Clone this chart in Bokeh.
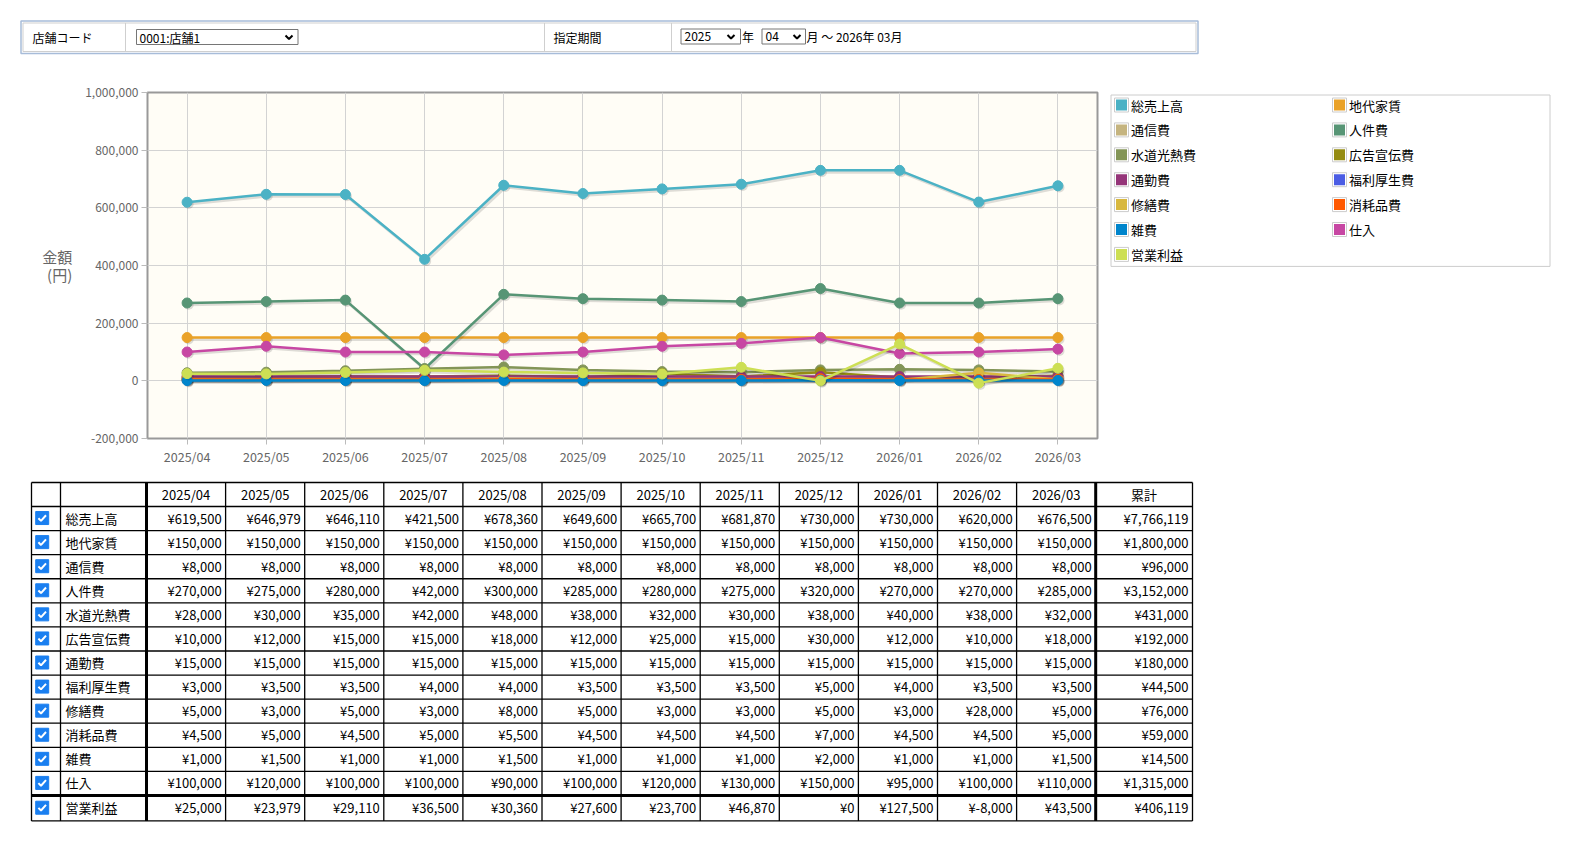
from bokeh.plotting import figure
from bokeh.models import FactorRange, Range1d, FixedTicker, NumeralTickFormatter, ColumnDataSource
from bokeh.layouts import column, row
from bokeh.embed import file_html
from bokeh.resources import INLINE
from bokeh.core.properties import value
from bokeh.transform import dodge

# ---------------- data ----------------
months = ["2025/04", "2025/05", "2025/06", "2025/07", "2025/08", "2025/09",
          "2025/10", "2025/11", "2025/12", "2026/01", "2026/02", "2026/03"]

series_names = ["総売上高", "地代家賃", "通信費", "人件費", "水道光熱費", "広告宣伝費",
                "通勤費", "福利厚生費", "修繕費", "消耗品費", "雑費", "仕入", "営業利益"]
series_colors = ["#4bb2c5", "#EAA228", "#c5b47f", "#579575", "#839557", "#958c12",
                 "#953579", "#4b5de4", "#d8b83f", "#ff5800", "#0085cc", "#c747a3", "#cddf54"]

uriage = [619500, 646979, 646110, 421500, 678360, 649600, 665700, 681870, 730000, 730000, 620000, 676500]
chidai = [150000, 150000, 150000, 150000, 150000, 150000, 150000, 150000, 150000, 150000, 150000, 150000]
tsushin = [8000, 8000, 8000, 8000, 8000, 8000, 8000, 8000, 8000, 8000, 8000, 8000]
jinken = [270000, 275000, 280000, 42000, 300000, 285000, 280000, 275000, 320000, 270000, 270000, 285000]
suido = [28000, 30000, 35000, 42000, 48000, 38000, 32000, 30000, 38000, 40000, 38000, 32000]
kokoku = [10000, 12000, 15000, 15000, 18000, 12000, 25000, 15000, 30000, 12000, 10000, 18000]
tsukin = [15000, 15000, 15000, 15000, 15000, 15000, 15000, 15000, 15000, 15000, 15000, 15000]
fukuri = [3000, 3500, 3500, 4000, 4000, 3500, 3500, 3500, 5000, 4000, 3500, 3500]
shuzen = [5000, 3000, 5000, 3000, 8000, 5000, 3000, 3000, 5000, 3000, 28000, 5000]
shomo = [4500, 5000, 4500, 5000, 5500, 4500, 4500, 4500, 7000, 4500, 4500, 5000]
zappi = [1000, 1500, 1000, 1000, 1500, 1000, 1000, 1000, 2000, 1000, 1000, 1500]
shiire = [100000, 120000, 100000, 100000, 90000, 100000, 120000, 130000, 150000, 95000, 100000, 110000]
eigyo = [25000, 23979, 29110, 36500, 30360, 27600, 23700, 46870, 0, 127500, -8000, 43500]

series_values = [uriage, chidai, tsushin, jinken, suido, kokoku, tsukin,
                 fukuri, shuzen, shomo, zappi, shiire, eigyo]

y_ticks = [-200000, 0, 200000, 400000, 600000, 800000, 1000000]
y_min, y_max = -200000, 1000000
y_label = "金額\n(円)"
total_label = "累計"

form_store_label = "店舗コード"
form_store_value = "0001:店舗1"
form_period_label = "指定期間"
form_year_value = "2025"
form_month_value = "04"
form_year_unit = "年"
form_period_end = "月 ～ 2026年 03月"

JP = "Noto Sans CJK JP"

# ---------------- form (top) ----------------
FW, FH = 1570, 60
fp = figure(width=FW, height=FH, x_range=Range1d(0, FW), y_range=Range1d(FH, 0),
            output_backend="svg", toolbar_location=None, min_border=0)
fp.axis.visible = False
fp.grid.visible = False
fp.outline_line_color = None
fp.background_fill_color = "white"
fp.border_fill_color = "white"

fp.quad(left=[20.5], right=[1197.5], top=[20.5], bottom=[53], fill_color=None,
        line_color="#a7bcd9", line_width=1.5)
fp.quad(left=[22.5], right=[1195.5], top=[22.5], bottom=[51], fill_color=None,
        line_color="#cfcfcf", line_width=1)
fp.segment(x0=[125, 544, 671], y0=[22.5] * 3, x1=[125, 544, 671], y1=[51] * 3,
           line_color="#cfcfcf", line_width=1)
# select boxes
fp.quad(left=[136, 680.5, 761.5], right=[297.5, 740, 805], top=[29, 28.5, 28.5],
        bottom=[44, 43.5, 43.5], fill_color="white", line_color="#767676", line_width=1)
fp.multi_line(xs=[[285, 288.5, 292], [727, 730.5, 734], [793, 796.5, 800]],
              ys=[[35, 38.5, 35], [34.5, 38, 34.5], [34.5, 38, 34.5]],
              line_color="black", line_width=2)
fp.text(x=[32, 139, 553, 684, 765, 741.5, 806],
        y=[36.5, 36.5, 36.5, 36, 36, 36, 36],
        text=[form_store_label, form_store_value, form_period_label, form_year_value,
              form_month_value, form_year_unit, form_period_end],
        text_font=value(JP), text_font_size=value("12px"), text_color="black",
        text_align="left", text_baseline="middle")

# ---------------- chart ----------------
CW, CH = 1105, 415
BT, BB = 32, 37
p = figure(x_range=FactorRange(factors=months), y_range=Range1d(y_min, y_max),
           width=CW, height=CH, min_border_left=147, min_border_right=8,
           min_border_top=BT, min_border_bottom=BB,
           output_backend="svg", toolbar_location=None,
           background_fill_color="#fffdf6", border_fill_color="white")
p.outline_line_color = "#999999"
p.outline_line_width = 2
p.xgrid.grid_line_color = "#d3d3d3"
p.ygrid.grid_line_color = "#d3d3d3"
p.yaxis.ticker = FixedTicker(ticks=y_ticks)
p.yaxis.formatter = NumeralTickFormatter(format="0,0")
for ax in (p.xaxis, p.yaxis):
    ax.axis_line_color = None
    ax.major_tick_line_color = "#bbbbbb"
    ax.major_tick_out = 6
    ax.major_tick_in = 0
    ax.minor_tick_line_color = None
    ax.major_label_text_color = "#666666"
    ax.major_label_text_font = JP
    ax.major_label_text_font_size = "12px"
p.yaxis.major_label_standoff = 3
p.xaxis.major_label_standoff = 2
p.xaxis.major_label_text_font_size = "12.5px"
p.yaxis.axis_label = y_label
p.yaxis.axis_label_orientation = "horizontal"
p.yaxis.axis_label_text_font = JP
p.yaxis.axis_label_text_font_size = "15px"
p.yaxis.axis_label_text_font_style = "normal"
p.yaxis.axis_label_text_color = "#666666"
p.yaxis.axis_label_text_line_height = 0.85
p.yaxis.axis_label_standoff = 10

frame_h = CH - BT - BB
px_per_unit = frame_h / (y_max - y_min)
shadow_dy = 1.8 / px_per_unit
for name, col, vals in zip(series_names, series_colors, series_values):
    src = ColumnDataSource(dict(x=months, y=vals, ys=[v - shadow_dy for v in vals]))
    sx = dodge("x", 0.02, range=p.x_range)
    p.line(x=sx, y="ys", source=src, line_color="black", line_alpha=0.13, line_width=3)
    p.scatter(x=sx, y="ys", source=src, size=10, fill_color="black", fill_alpha=0.13,
              line_color=None)
    p.line(x="x", y="y", source=src, line_color=col, line_width=2.5)
    p.scatter(x="x", y="y", source=src, size=10, fill_color=col, line_color=col)

# ---------------- legend (same vertical frame as chart; global page coordinates) ----------------
LX0, LW = CW, 1570 - CW
GY_TOP = 60 + BT
lp = figure(width=LW, height=CH, x_range=Range1d(LX0, LX0 + LW),
            y_range=Range1d(GY_TOP + frame_h, GY_TOP),
            output_backend="svg", toolbar_location=None, min_border_left=0,
            min_border_right=0, min_border_top=BT, min_border_bottom=BB)
lp.axis.visible = False
lp.grid.visible = False
lp.outline_line_color = None
lp.border_fill_color = "white"
lp.background_fill_color = "white"
n_rows = (len(series_names) + 1) // 2
row_step = 24.9
first_row = 104.5
leg_top = 94.5
lp.quad(left=[1110.5], right=[1549.5], top=[leg_top],
        bottom=[first_row + row_step * (n_rows - 1) + 12],
        fill_color="white", line_color="#cccccc", line_width=1)
sw_x = [1121 + 218 * (i % 2) for i in range(len(series_names))]
sw_y = [first_row + row_step * (i // 2) for i in range(len(series_names))]
lp.rect(x=sw_x, y=sw_y, width=14, height=14, fill_color="white", line_color="#cccccc",
        line_width=1)
lp.rect(x=sw_x, y=sw_y, width=11, height=11, fill_color=series_colors, line_color=None)
lp.text(x=[x + 9.5 for x in sw_x], y=sw_y, text=series_names, text_font=value(JP),
        text_font_size=value("13px"), text_color="black", text_align="left",
        text_baseline="middle")

# ---------------- table ----------------
TW, TH = 1570, 367
OFF = 475
tp = figure(width=TW, height=TH, x_range=Range1d(0, TW), y_range=Range1d(TH, 0),
            output_backend="svg", toolbar_location=None, min_border=0)
tp.axis.visible = False
tp.grid.visible = False
tp.outline_line_color = None
tp.border_fill_color = "white"
tp.background_fill_color = "white"

mw = 79.1
col_edges = [31, 60, 146] + [146 + mw * (k + 1) for k in range(len(months))] + [1192]
top = 482 - OFF
hdr_bot = 506 - OFF
rh = 24.08
row_edges = [top, hdr_bot] + [hdr_bot + rh * (i + 1) for i in range(len(series_names) - 1)]
last_bot = row_edges[-1] + 25.5
row_edges.append(last_bot)
row_centers = [(row_edges[i + 1] + row_edges[i + 2]) / 2 - 0.5 for i in range(len(series_names))]

tp.segment(x0=[col_edges[0]] * len(row_edges), x1=[col_edges[-1]] * len(row_edges),
           y0=row_edges, y1=row_edges, line_color="black", line_width=1.3)
tp.segment(x0=col_edges, x1=col_edges, y0=[top] * len(col_edges), y1=[last_bot] * len(col_edges),
           line_color="black", line_width=1.3)
thick_x = [col_edges[2], col_edges[-2]]
tp.segment(x0=thick_x, x1=thick_x, y0=[top] * 2, y1=[last_bot] * 2, line_color="black",
           line_width=3)
tp.segment(x0=[col_edges[0]], x1=[col_edges[-1]], y0=[row_edges[-2]], y1=[row_edges[-2]],
           line_color="black", line_width=3)

hdr_y = (top + hdr_bot) / 2
hdr_x = [(col_edges[k + 2] + col_edges[k + 3]) / 2 for k in range(len(months) + 1)]
tp.text(x=hdr_x, y=[hdr_y] * len(hdr_x), text=months + [total_label], text_font=value(JP),
        text_font_size=value("13px"), text_color="black", text_align="center",
        text_baseline="middle")

tp.text(x=[65] * len(series_names), y=row_centers, text=series_names, text_font=value(JP),
        text_font_size=value("13px"), text_color="black", text_align="left",
        text_baseline="middle")


def yen(v):
    return "¥" + f"{v:,}"


cell_x, cell_y, cell_t = [], [], []
for r, vals in enumerate(series_values):
    for k, v in enumerate(vals):
        cell_x.append(col_edges[k + 3] - 4)
        cell_y.append(row_centers[r])
        cell_t.append(yen(v))
    cell_x.append(col_edges[-1] - 4)
    cell_y.append(row_centers[r])
    cell_t.append(yen(sum(vals)))
tp.text(x=cell_x, y=cell_y, text=cell_t, text_font=value(JP), text_font_size=value("13px"),
        text_color="black", text_align="right", text_baseline="middle")

# checkboxes
cb_x = 41.7
tp.rect(x=[cb_x] * len(row_centers), y=row_centers, width=13, height=13,
        fill_color="#1a7ff0", line_color="#1a7ff0", line_width=1)
tp.multi_line(xs=[[cb_x - 3.8, cb_x - 1.2, cb_x + 3.8] for _ in row_centers],
              ys=[[c + 0.2, c + 2.8, c - 2.8] for c in row_centers],
              line_color="white", line_width=2)

layout = column(fp, row(p, lp), tp)
open("out.html", "w").write(file_html(layout, INLINE))
